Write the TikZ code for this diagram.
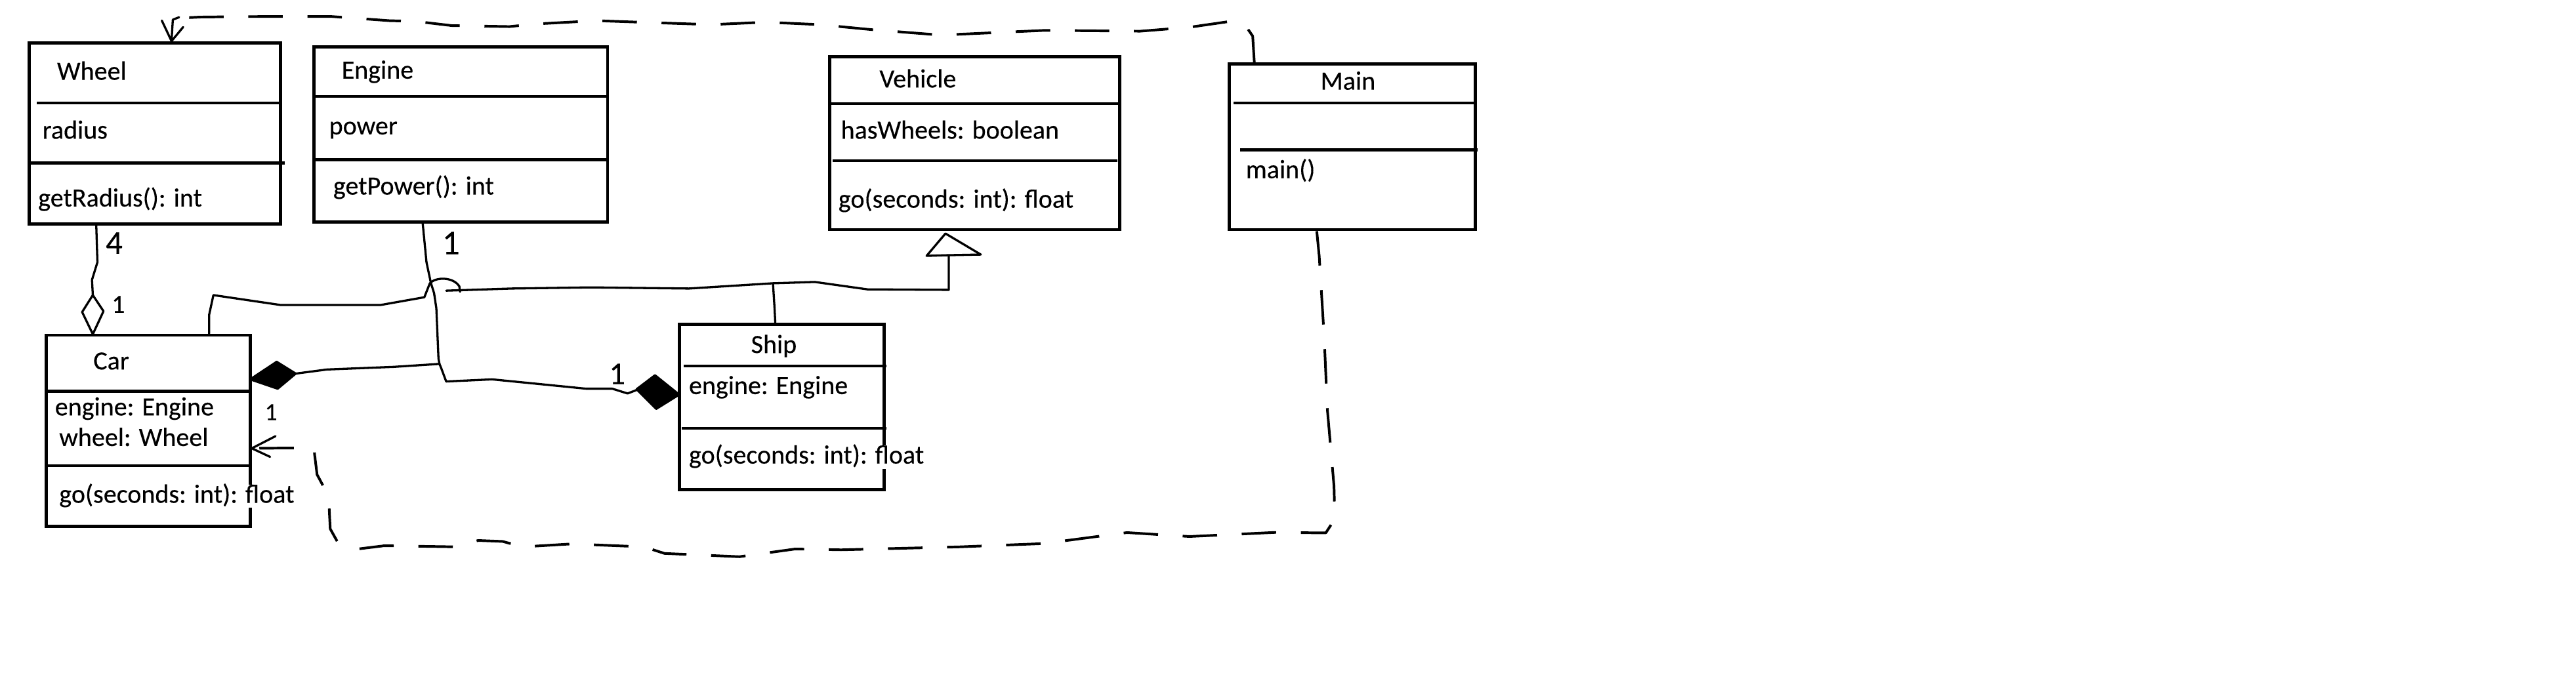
\documentclass[tikz,border=0pt]{standalone}
\usepackage{fontspec}
\setmainfont{Carlito}[FakeBold=0.3]
\usetikzlibrary{fit}
\begin{document}
\begin{tikzpicture}[x=0.02cm,y=-0.02cm,
  classbox/.style={draw, line width=1.1pt, inner sep=0pt},
  divider/.style={line width=1pt},
  txt/.style={anchor=west, inner sep=0pt, font=\fontsize{9.1}{10}\selectfont, text height=6.3pt, text depth=1.8pt, fill=white},
  ctxt/.style={txt, anchor=center},
  conn/.style={line width=0.75pt, line join=round, line cap=round},
  dep/.style={line width=0.9pt, dash pattern=on 0.42cm off 0.3cm, line join=round},
  mult/.style={inner sep=0pt}
]
\useasboundingbox (0,0) rectangle (1568,419.8);

% ---------- class boxes ----------
\node[classbox, fit={(17.8,26) (170.6,136.4)}] (wheel) {};
\draw[divider] (22.4,62.6) -- (170.6,62.6);
\draw[divider] (17.8,99.2) -- (173.2,99.2);
\node[txt] (wheelname) at (34.4,44.6) {Wheel};
\node[txt] (wheelattr) at (25.5,80.5) {radius};
\node[txt] (wheelop) at (22.9,121.8) {getRadius(): int};

\node[classbox, fit={(191,28.6) (369.8,135.1)}] (engine) {};
\draw[divider] (192,58.6) -- (370.5,58.6);
\draw[divider] (191,97.2) -- (369.8,97.2);
\node[txt] (enginename) at (207.6,43.9) {Engine};
\node[txt] (engineattr) at (200,77.9) {power};
\node[txt] (engineop) at (202.5,114.5) {getPower(): int};

\node[classbox, fit={(505,34.7) (681.6,139.8)}] (vehicle) {};
\draw[divider] (505,63.2) -- (681.6,63.2);
\draw[divider] (507,97.8) -- (680,97.8);
\node[txt] (vehiclename) at (535,49.3) {Vehicle};
\node[txt] (vehicleattr) at (511.5,80.5) {hasWheels: boolean};
\node[txt] (vehicleop) at (510,122.5) {go(seconds: int): float};

\node[classbox, fit={(748.2,39) (898,139.8)}] (main) {};
\draw[divider] (750.8,62.8) -- (898,62.8);
\draw[divider] (755,91.2) -- (899.5,91.2);
\node[ctxt] (mainname) at (820.5,50.6) {Main};
\node[txt] (mainop) at (758,104.5) {main()};

\node[classbox, fit={(28,204.1) (152.3,320.6)}] (car) {};
\draw[divider] (29,238.3) -- (153,238.3);
\draw[divider] (29,283.5) -- (152.3,283.5);
\node[txt] (carname) at (56.5,221) {Car};
\node[txt] (carattr1) at (33.1,249) {engine: Engine};
\node[txt] (carattr2) at (35.7,267.6) {wheel: Wheel};
\node[txt] (carop) at (35.7,302.2) {go(seconds: int): float};

\node[classbox, fit={(413.4,197.5) (538.3,298)}] (ship) {};
\draw[divider] (416,222.8) -- (539.5,222.8);
\draw[divider] (415,260.9) -- (539.5,260.9);
\node[txt] (shipname) at (456.8,211) {Ship};
\node[txt] (shipattr) at (419,236) {engine: Engine};
\node[txt] (shipop) at (419,278.3) {go(seconds: int): float};

% ---------- aggregation Wheel - Car ----------
\draw[conn] (58.6,0 |- wheel.south) -- (59.3,159.7) -- (56,170.4) -- (56.5,179.7);
\draw[conn, fill=white] (56.5,179.7) -- (63,189.5) -- (56.5,203.5) -- (50,190) -- cycle;

% ---------- composition Engine - Car / Ship ----------
\draw[conn] (257.3,0 |- engine.south) -- (259.6,159.7) -- (262.3,172.4) -- (264.2,178.4)
  -- (265.6,187.7) -- (266.9,218.3) -- (267.5,221.6) coordinate (ej)
  -- (239.6,223.4) -- (199,225) -- (180,227.5);
\draw[conn] (ej) -- (268.5,224) -- (271.6,232.3) -- (299.5,231) -- (332.8,234.3) -- (356.8,236.7)
  -- (372.7,236.7) -- (382,239.6) -- (387.5,237.5);
\filldraw[conn] (180,227.5) -- (168.4,220.3) -- (152.3,231) -- (169,236.7) -- cycle;
\filldraw[conn] (387.5,237) -- (398.7,228.5) -- (413.4,240.3) -- (399.4,249) -- cycle;

% ---------- generalization Car, Ship -> Vehicle ----------
\draw[conn] (127.3,0 |- car.north) -- (127.3,191.7) -- (129.9,179.7) -- (170.6,185.7)
  -- (231.8,185.7) -- (258.3,181) -- (261.6,172.6)
  .. controls (265,168.5) and (276,168.5) .. (279.6,174.4) -- (280,177.7)
  (271.6,177) -- (311.5,175.7) -- (359.4,175) -- (419.3,175.7) -- (470.5,172.5) coordinate (gj)
  -- (496,171.7) -- (528,176.2) -- (577.5,176.5) -- (577.5,156);
\draw[conn] (471.9,0 |- ship.north) -- (471.5,188.3) -- (gj);
\draw[conn, fill=white] (564,155.8) -- (575.5,142.2) -- (597,155) -- (577,155.4) -- cycle;

% ---------- dependency Main -> Wheel ----------
\draw[dep] (763.5,0 |- main.north) -- (762.5,22) -- (757,14) -- (749,13) -- (724,16.6) -- (694,19)
  -- (636,18.5) -- (581,21) -- (568,21) -- (530,18) -- (499,15) -- (466,13.5) -- (433,15)
  -- (383,13.3) -- (363,12.6) -- (326,14.6) -- (310,16.2) -- (275,15.6) -- (253,13)
  -- (237,12.6) -- (201,10) -- (148,10.1) -- (122,10.4) -- (109,11);
\draw[conn] (109,10.5) -- (105.2,12) -- (104.4,0 |- wheel.north);
\draw[conn] (98.5,12.5) -- (104.4,0 |- wheel.north) -- (111.5,16.5);

% ---------- dependency Main -> Car ----------
\draw[dep] (801.5,0 |- main.south) -- (803,156) -- (806,205) -- (808,250) -- (812,296) -- (812.5,316)
  -- (807,324.5) -- (776,324.2) -- (724,326.7) -- (686,324.3) -- (635,331) -- (584,333)
  -- (512,334.8) -- (484,334.3) -- (450,339) -- (404.5,337) -- (392,333) -- (348,331.2)
  -- (318,333) -- (306,329.7) -- (291,329.1) -- (278.5,333) -- (234,332.3) -- (217,334.4)
  -- (206,331) -- (201,322) -- (200,302) -- (193,289) -- (191,272.7) -- (car.east |- 0,273);
\draw[conn] (167.7,265.6) -- (car.east |- 0,273) -- (164.4,278.2);

% ---------- multiplicities ----------
\node[mult, font=\fontsize{11.5}{12}\selectfont] (m4) at (69.5,148) {4};
\node[mult, font=\fontsize{9}{10}\selectfont] (m1wheel) at (72,185.4) {1};
\node[mult, font=\fontsize{12}{13}\selectfont] (m1engine) at (274.5,148) {1};
\node[mult, font=\fontsize{8.5}{9}\selectfont] (m1car) at (165,251) {1};
\node[mult, font=\fontsize{11}{12}\selectfont] (m1ship) at (375.7,227.7) {1};
\end{tikzpicture}
\end{document}
